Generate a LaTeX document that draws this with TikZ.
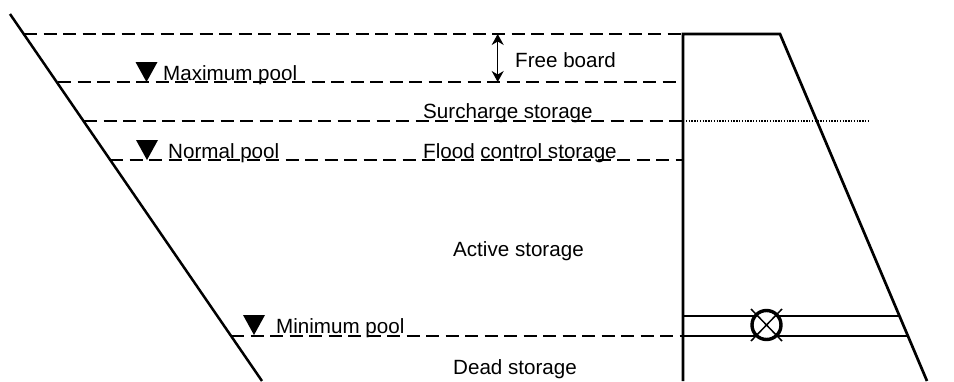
\documentclass[tikz,border=0pt]{standalone}
\usepackage{fontspec}
\setmainfont{Liberation Sans}
\usetikzlibrary{arrows.meta}
\begin{document}
\begin{tikzpicture}[x=1pt,y=-1pt,
    level/.style={line width=1.4pt,dash pattern=on 13pt off 6.5pt},
    wall/.style={line width=2.5pt},
    pipe/.style={line width=1.2pt},
    boardarrow/.style={{Stealth[length=11pt,width=12pt]}-{Stealth[length=11pt,width=12pt]},line width=1.5pt},
    label/.style={anchor=base west,inner sep=0pt,font=\fontsize{20.6}{24}\selectfont}]
            \useasboundingbox (0,0) rectangle (954,381);

            % water levels
            \foreach \ystart/\y in {24/34,58/82,84/121,110/160,231/336}
                \draw[level] (\ystart,\y) -- (683,\y);
            \draw[line width=1.3pt,dash pattern=on 1.4pt off 1.4pt] (683,121) -- (868,121);

            % banks and dam
            \draw[wall] (10,14) -- (262,381);
            \coordinate (crestleft) at (683,34);
            \coordinate (crestright) at (780,34);
            \draw[wall,line width=2.7pt] (683,381) -- (crestleft) -- (crestright) -- (927,381);

            % outlet
            \node[circle,draw,fill=white,line width=3.4pt,minimum size=29pt,inner sep=0pt] (gate) at (766.5,325) {};
            \draw[pipe] (683,316) -- (gate.north west |- 0,316);
            \draw[pipe] (gate.north east |- 0,316) -- (899,316);
            \draw[line width=1.5pt] (683,336) -- (gate.south west |- 0,336);
            \draw[pipe] (gate.south east |- 0,336) -- (907,336);
            \draw[line width=1.5pt] (751,309) -- (782,341);
            \draw[line width=1.5pt] (782,309) -- (751,341);

            % pool marks
            \foreach \xtip/\ytip in {146.5/82,147/160,254/335}
                \fill (\xtip,\ytip) -- ++(-11,-20) -- ++(22,0) -- cycle;

            % free board
            \coordinate (boardtop) at (497.7,34);
            \coordinate (boardbottom) at (497.7,82);
            \draw[boardarrow] (boardtop) -- (boardbottom);

            \node[label] (freeboard) at (515,67) {Free board};
            \node[label] (maxpool) at (163,80) {Maximum pool};
            \node[label] (surcharge) at (423,118) {Surcharge storage};
            \node[label] (normalpool) at (168,158) {Normal pool};
            \node[label] (flood) at (423,158) {Flood control storage};
            \node[label] (active) at (453,256) {Active storage};
            \node[label] (minpool) at (276,333) {Minimum pool};
            \node[label] (dead) at (453,374) {Dead storage};
        \end{tikzpicture}
\end{document}
